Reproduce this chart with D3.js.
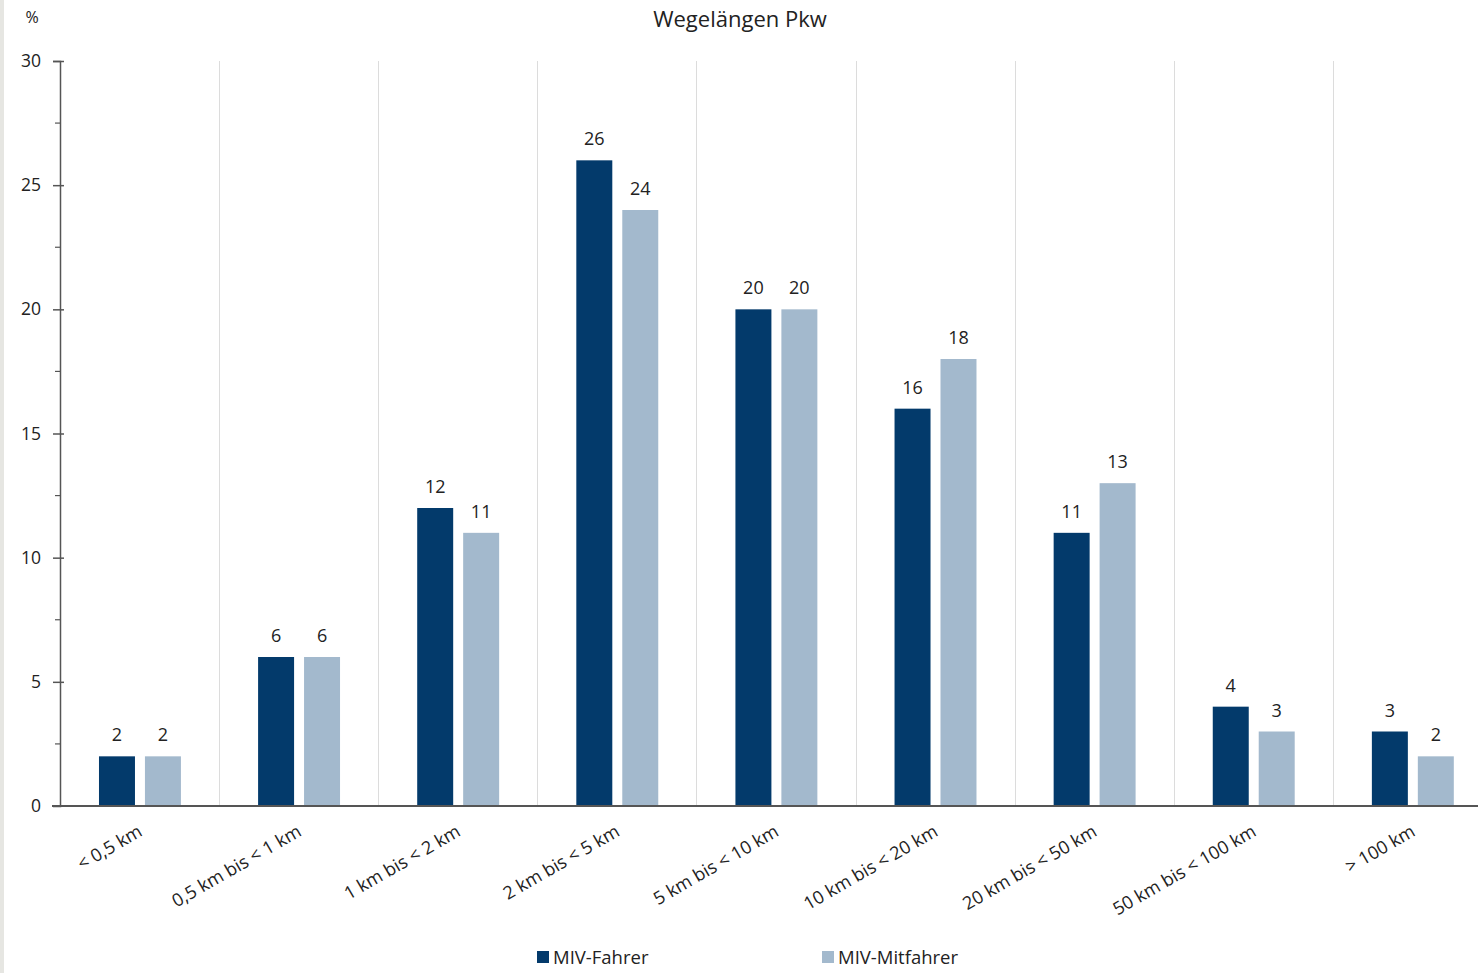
<!DOCTYPE html>
<html>
<head>
<meta charset="utf-8">
<script src="https://cdn.jsdelivr.net/npm/d3@7"></script>
<style>
  html, body { margin: 0; padding: 0; background: #fff; }
  svg { display: block; font-family: "Open Sans", "Noto Sans", sans-serif; }
</style>
</head>
<body>
<svg id="chart" width="1478" height="973"></svg>
<script>
// Wegelängen Pkw: share of trips (%) by trip distance, drivers vs. passengers
const categories = ["< 0,5 km", "0,5 km bis < 1 km", "1 km bis < 2 km", "2 km bis < 5 km",
  "5 km bis < 10 km", "10 km bis < 20 km", "20 km bis < 50 km", "50 km bis < 100 km", "> 100 km"];
const fahrer = [2, 6, 12, 26, 20, 16, 11, 4, 3];
const mitfahrer = [2, 6, 11, 24, 20, 18, 13, 3, 2];
const seriesNames = ["MIV-Fahrer", "MIV-Mitfahrer"];
const yTicks = [0, 5, 10, 15, 20, 25, 30];
const yMinorTicks = [2.5, 7.5, 12.5, 17.5, 22.5, 27.5];

const colors = ["#033a6b", "#a3b9cd"];
const textColor = "#222";
const svg = d3.select("#chart");

// left grey frame strip
svg.append("rect").attr("x", 0).attr("y", 0).attr("width", 4).attr("height", 973).attr("fill", "#e6e6e2");

const x0 = 60, x1 = 1492, yTop = 61, yBot = 806;
const x = d3.scaleBand().domain(categories).range([x0, x1]);
const y = d3.scaleLinear().domain([0, 30]).range([yBot, yTop]);
const bw = x.bandwidth();
const inner = d3.scaleBand().domain([0, 1])
  .range([bw * 0.245, bw * 0.76]).paddingInner(0.217).paddingOuter(0);

// vertical separators between categories
svg.append("g").selectAll("line").data(categories.slice(1)).join("line")
  .attr("x1", d => Math.round(x(d)) + 0.5).attr("x2", d => Math.round(x(d)) + 0.5)
  .attr("y1", yTop).attr("y2", yBot)
  .attr("stroke", "#dcdcdc").attr("stroke-width", 1);

// bars with value labels
const series = [fahrer, mitfahrer];
series.forEach((vals, s) => {
  const g = svg.append("g");
  g.selectAll("rect").data(vals).join("rect")
    .attr("x", (d, i) => x(categories[i]) + inner(s))
    .attr("width", inner.bandwidth())
    .attr("y", d => y(d))
    .attr("height", d => yBot - y(d))
    .attr("fill", colors[s]);
  g.selectAll("text").data(vals).join("text")
    .attr("x", (d, i) => x(categories[i]) + inner(s) + inner.bandwidth() / 2)
    .attr("y", d => y(d) - 15)
    .attr("text-anchor", "middle")
    .attr("font-size", 18)
    .attr("fill", textColor)
    .text(d => d);
});

// y axis
const yAxis = svg.append("g").attr("transform", `translate(${x0},0)`)
  .call(d3.axisLeft(y).tickValues(yTicks).tickSize(7).tickPadding(12));
yAxis.select(".domain").attr("stroke", "#555").attr("stroke-width", 1.5);
yAxis.selectAll(".tick line").attr("stroke", "#555").attr("stroke-width", 1.5).attr("x2", 4).attr("x1", -7);
yAxis.selectAll(".tick text").attr("font-size", 17.5).attr("fill", textColor).attr("font-family", "Open Sans, sans-serif");
yAxis.selectAll(".tick").filter(d => d === 0).select("line").remove();
svg.append("g").selectAll("line").data(yMinorTicks).join("line")
  .attr("x1", x0 - 5).attr("x2", x0).attr("y1", d => y(d)).attr("y2", d => y(d))
  .attr("stroke", "#555").attr("stroke-width", 1.2);

// x axis baseline
svg.append("line").attr("x1", 52).attr("x2", 1478).attr("y1", yBot).attr("y2", yBot)
  .attr("stroke", "#555").attr("stroke-width", 1.8);

// category labels, rotated
svg.append("g").selectAll("text").data(categories).join("text")
  .attr("transform", d => `translate(${x(d) + x.bandwidth() / 2 + 4},${yBot + 29}) rotate(-30)`)
  .attr("text-anchor", "end")
  .attr("font-size", 18)
  .attr("fill", textColor)
  .text(d => d);

// title and unit
svg.append("text").attr("x", 740).attr("y", 27).attr("text-anchor", "middle")
  .attr("font-size", 22).attr("fill", textColor).text("Wegelängen Pkw");
svg.append("text").attr("x", 32).attr("y", 23).attr("text-anchor", "middle")
  .attr("font-size", 16).attr("fill", textColor).text("%");

// legend
const legendX = [537, 822];
seriesNames.forEach((name, s) => {
  svg.append("rect").attr("x", legendX[s]).attr("y", 951).attr("width", 12).attr("height", 12).attr("fill", colors[s]);
  svg.append("text").attr("x", legendX[s] + 16).attr("y", 964).attr("font-size", 18.5)
    .attr("fill", textColor).text(name);
});
</script>
</body>
</html>
